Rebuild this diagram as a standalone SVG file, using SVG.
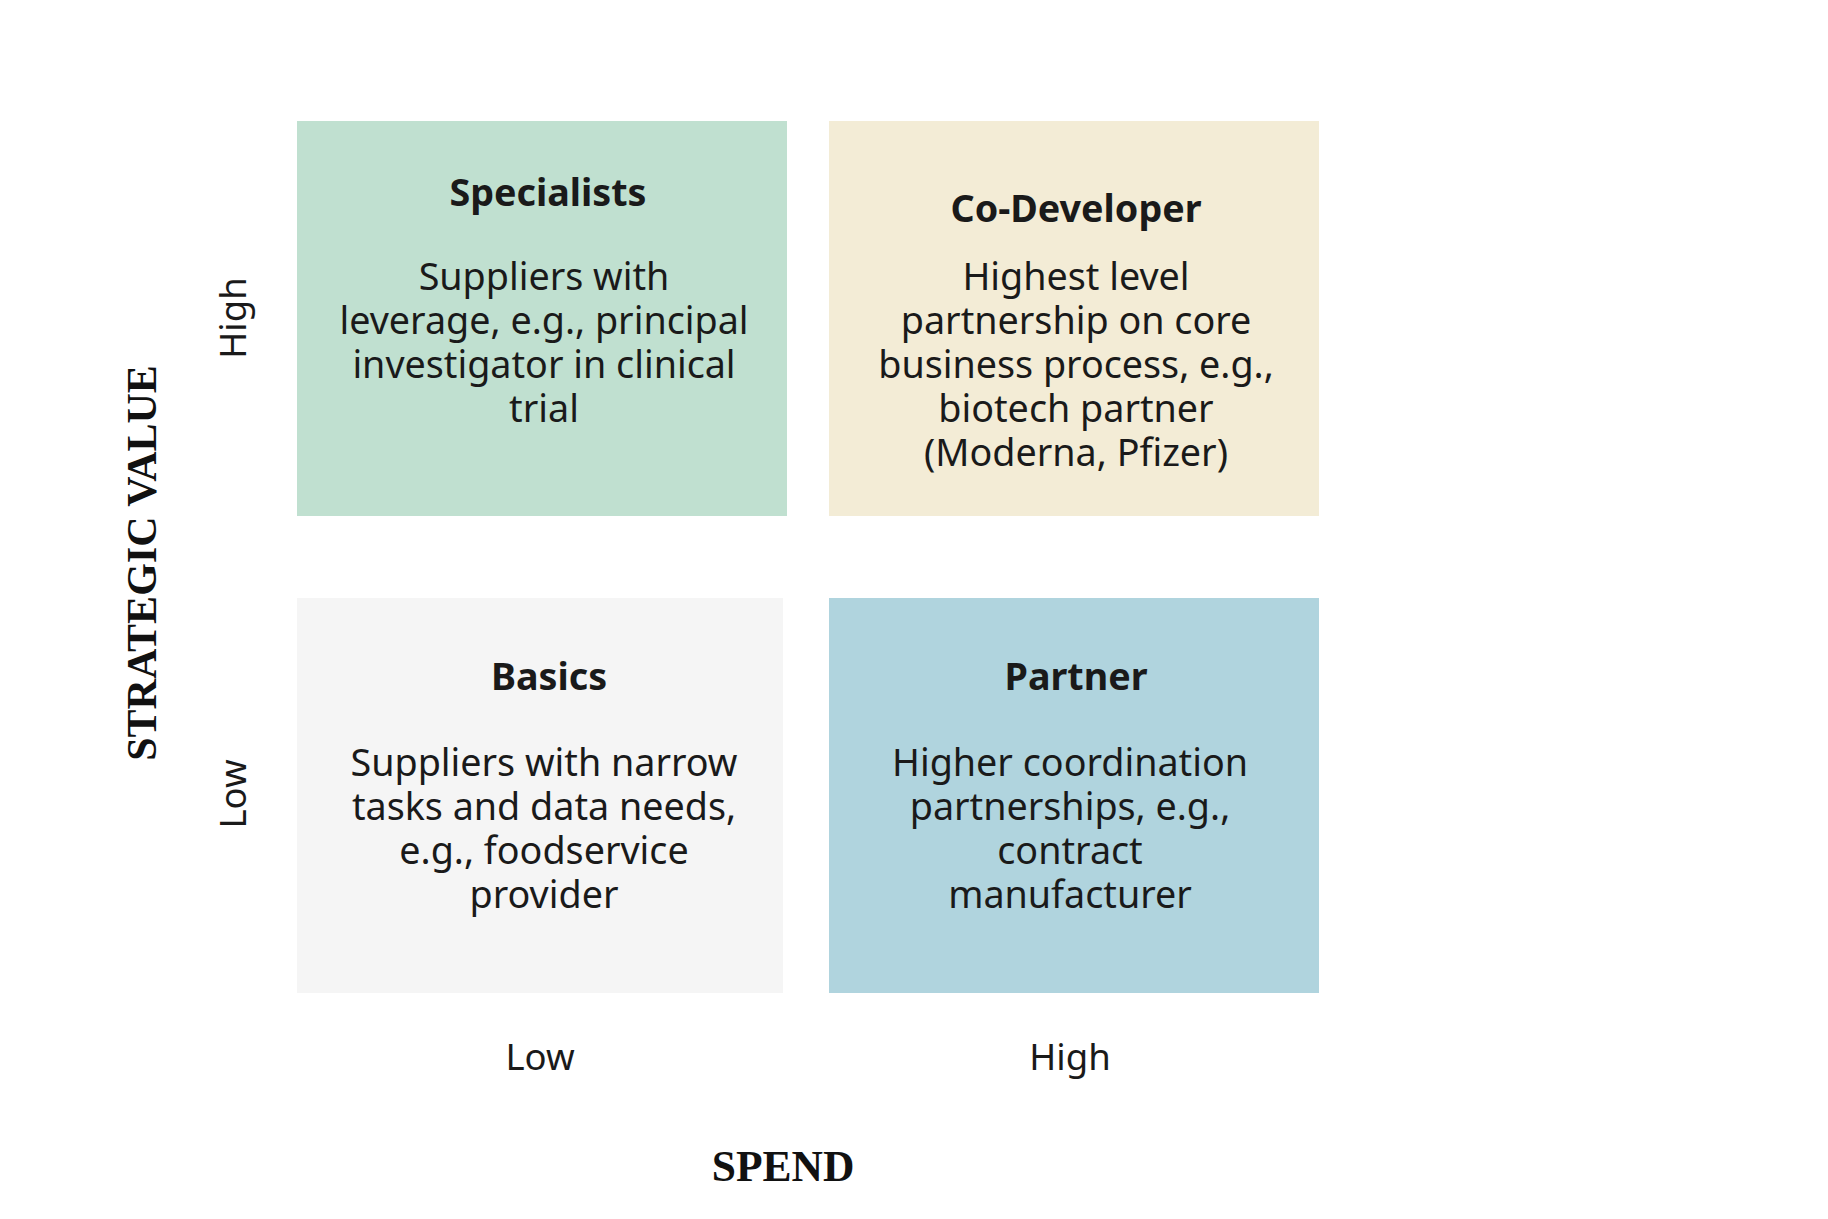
<svg xmlns="http://www.w3.org/2000/svg" width="1828" height="1219" viewBox="0 0 1828 1219">
<style>
.t{font-family:"Noto Sans","Open Sans",sans-serif;font-size:37.7px;fill:#1a1a1a;text-anchor:middle}
.b{font-weight:bold}
.ax{font-family:"Noto Sans","Open Sans",sans-serif;font-size:36.5px;fill:#1a1a1a;text-anchor:middle}
.ser{font-family:"Liberation Serif","Times New Roman",serif;font-weight:bold;font-size:42px;fill:#111;text-anchor:middle}
</style>
<rect width="1828" height="1219" fill="#ffffff"/>
<g id="specialists">
<rect x="297" y="121" width="490" height="395" fill="#c0e0d0"/>
<text class="t b" x="548" y="206">Specialists</text>
<text class="t" x="544" y="290">Suppliers with</text>
<text class="t" x="544" y="334">leverage, e.g., principal</text>
<text class="t" x="544" y="378">investigator in clinical</text>
<text class="t" x="544" y="422">trial</text>
</g>
<g id="co-developer">
<rect x="829" y="121" width="490" height="395" fill="#f3ecd6"/>
<text class="t b" x="1076" y="222">Co-Developer</text>
<text class="t" x="1076" y="290">Highest level</text>
<text class="t" x="1076" y="334">partnership on core</text>
<text class="t" x="1076" y="378">business process, e.g.,</text>
<text class="t" x="1076" y="422">biotech partner</text>
<text class="t" x="1076" y="466">(Moderna, Pfizer)</text>
</g>
<g id="basics">
<rect x="297" y="598" width="486" height="395" fill="#f5f5f5"/>
<text class="t b" x="549" y="690">Basics</text>
<text class="t" x="544" y="776">Suppliers with narrow</text>
<text class="t" x="544" y="820">tasks and data needs,</text>
<text class="t" x="544" y="864">e.g., foodservice</text>
<text class="t" x="544" y="908">provider</text>
</g>
<g id="partner">
<rect x="829" y="598" width="490" height="395" fill="#b0d4de"/>
<text class="t b" x="1076" y="690">Partner</text>
<text class="t" x="1070" y="776">Higher coordination</text>
<text class="t" x="1070" y="820">partnerships, e.g.,</text>
<text class="t" x="1070" y="864">contract</text>
<text class="t" x="1070" y="908">manufacturer</text>
</g>
<g id="axes">
<text class="ax" transform="translate(246,318) rotate(-90)">High</text>
<text class="ax" transform="translate(246,794) rotate(-90)">Low</text>
<text class="ser" transform="translate(156,563) rotate(-90)">STRATEGIC VALUE</text>
<text class="ax" x="540" y="1070">Low</text>
<text class="ax" x="1070" y="1070">High</text>
<text class="ser" x="783" y="1181" style="font-size:43.5px">SPEND</text>
</g>
<g id="connectors"></g>
</svg>
